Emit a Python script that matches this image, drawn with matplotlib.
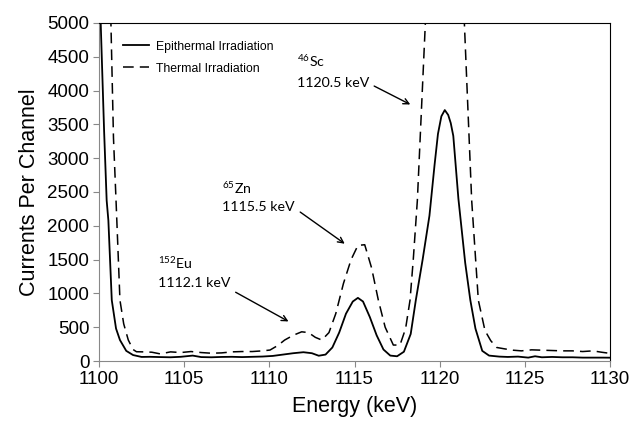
import matplotlib
matplotlib.use('Agg')
import matplotlib.pyplot as plt

# epithermal irradiation (solid)
epi_e = [1100.0, 1100.1, 1100.3, 1100.45, 1100.55, 1100.75, 1101.0, 1101.23, 1101.6, 1102.0,
         1102.5, 1103.0, 1103.6, 1104.2, 1104.8, 1105.5, 1106.0, 1106.6, 1107.2, 1107.8,
         1108.4, 1109.0, 1109.6, 1110.2, 1110.8, 1111.4, 1112.0, 1112.5, 1112.9, 1113.3,
         1113.7, 1114.1, 1114.5, 1114.9, 1115.2, 1115.5, 1115.9, 1116.3, 1116.7, 1117.1,
         1117.5, 1117.9, 1118.3, 1118.6, 1119.0, 1119.4, 1119.7, 1119.9, 1120.1, 1120.3,
         1120.5, 1120.65, 1120.8, 1121.1, 1121.5, 1121.8, 1122.1, 1122.5, 1122.9, 1123.5,
         1124.0, 1124.6, 1125.2, 1125.6, 1126.0, 1126.6, 1127.2, 1127.8, 1128.4, 1129.0,
         1129.6, 1130.0]
epi_c = [5600, 5000, 3400, 2375, 2080, 900, 480, 310, 150, 88,
         60, 62, 58, 55, 62, 80, 58, 55, 60, 62,
         58, 62, 66, 75, 95, 115, 130, 115, 78, 95,
         200, 420, 700, 880, 934, 880, 650, 380, 170, 80,
         70, 137, 400, 900, 1500, 2150, 2900, 3360, 3620, 3712,
         3640, 3520, 3330, 2400, 1450, 900, 480, 150, 80, 65,
         60, 65, 50, 70, 55, 60, 55, 55, 50, 50,
         50, 49]

# thermal irradiation (dashed)
th_e = [1100.4, 1100.7, 1100.85, 1101.0, 1101.23, 1101.45, 1101.72, 1102.0, 1102.2, 1102.6,
        1103.1, 1103.6, 1104.2, 1104.8, 1105.4, 1106.0, 1106.6, 1107.2, 1107.8, 1108.4,
        1109.0, 1109.6, 1110.04, 1110.5, 1110.9, 1111.4, 1111.9, 1112.3, 1112.7, 1113.08,
        1113.5, 1113.9, 1114.35, 1114.8, 1115.2, 1115.6, 1116.0, 1116.4, 1116.8, 1117.28,
        1117.67, 1118.0, 1118.26, 1118.45, 1118.69, 1119.16, 1119.5, 1120.3, 1121.1, 1121.45,
        1121.88, 1122.27, 1122.66, 1123.0, 1123.35, 1123.8, 1124.3, 1124.8, 1125.4, 1126.0,
        1126.6, 1127.2, 1127.8, 1128.4, 1129.0, 1129.5, 1130.0]
th_c = [8000, 5000, 3300, 2375, 900, 550, 310, 170, 137, 135,
        130, 105, 135, 125, 140, 125, 115, 120, 135, 140,
        140, 150, 162, 230, 310, 380, 432, 420, 350, 310,
        420, 700, 1146, 1500, 1710, 1720, 1380, 900, 500, 236,
        236, 480, 900, 1500, 2375, 5000, 7500, 9000, 7500, 5000,
        2375, 900, 450, 300, 200, 180, 160, 150, 165, 160,
        155, 150, 150, 140, 150, 130, 113]

xticks = [1100, 1105, 1110, 1115, 1120, 1125, 1130]
yticks = [0, 500, 1000, 1500, 2000, 2500, 3000, 3500, 4000, 4500, 5000]

plt.rcParams['font.family'] = ['Liberation Sans', 'DejaVu Sans']
plt.rcParams['mathtext.fontset'] = 'custom'
plt.rcParams['mathtext.rm'] = 'Lato'

fig = plt.figure(figsize=(6.31, 4.23), dpi=100)
ax = fig.add_axes([99/631, 1-361/423, 511/631, 338/423])

ax.plot(epi_e, epi_c, color='black', lw=1.3, label='Epithermal Irradiation')
ax.plot(th_e, th_c, color='black', lw=1.1, ls=(0, (7, 4)), label='Thermal Irradiation')

ax.set_xlim(1100, 1130)
ax.set_ylim(0, 5000)
ax.set_xticks(xticks)
ax.set_yticks(yticks)
ax.tick_params(direction='out', length=4, labelsize=13.5, color='#888888', pad=3)
for s in ['left', 'bottom']:
    ax.spines[s].set_color('#888888')
ax.set_xlabel('Energy (keV)', fontsize=15.5, labelpad=6)
ax.set_ylabel('Currents Per Channel', fontsize=15.5, labelpad=5)

ax.legend(loc='upper left', bbox_to_anchor=(0.025, 0.98), frameon=False,
          handlelength=2.15, handletextpad=0.55, labelspacing=0.8,
          prop={'family': ['Liberation Sans Narrow', 'Liberation Sans'], 'size': 8.8})

afont = {'family': ['Lato', 'DejaVu Sans'], 'size': 10.2}
ax.text(1111.62, 4440, r'$^{46}$Sc', va='center', ha='left', **afont)
ax.text(1111.62, 4115, '1120.5 keV', va='center', ha='left', **afont)
ax.text(1107.22, 2566, r'$^{65}$Zn', va='center', ha='left', **afont)
ax.text(1107.22, 2271, '1115.5 keV', va='center', ha='left', **afont)
ax.text(1103.46, 1460, r'$^{152}$Eu', va='center', ha='left', **afont)
ax.text(1103.46, 1150, '1112.1 keV', va='center', ha='left', **afont)

aprops = dict(arrowstyle='->', color='black', lw=1.0)
ax.annotate('', xy=(1118.42, 3776), xytext=(1116.01, 4086), arrowprops=aprops)
ax.annotate('', xy=(1114.56, 1711), xytext=(1111.68, 2227), arrowprops=aprops)
ax.annotate('', xy=(1111.27, 565), xytext=(1107.88, 1037), arrowprops=aprops)

fig.savefig('out.png', dpi=100)
